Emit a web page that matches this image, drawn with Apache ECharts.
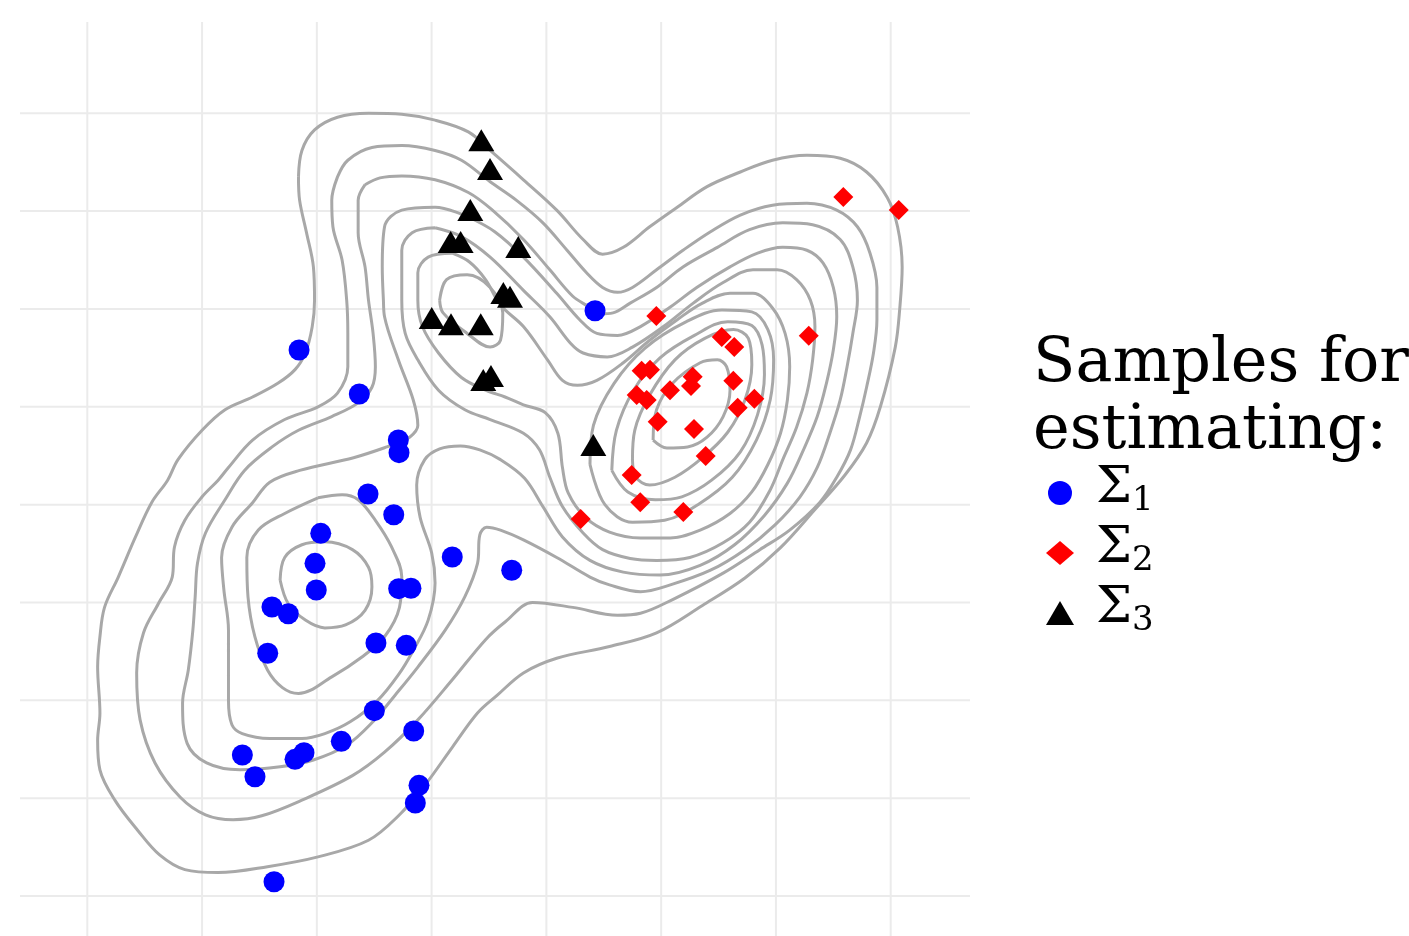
<!DOCTYPE html>
<html><head><meta charset="utf-8">
<script src="https://cdn.jsdelivr.net/npm/echarts@6/dist/echarts.min.js"></script>
<style>html,body{margin:0;padding:0;background:#fff}#chart{width:1409px;height:936px}</style>
</head><body><div id="chart"></div>
<script>
// ---- sample points (grid units) ----
const sigma1X = [1.845,2.370,2.710,2.716,2.446,2.670,2.034,1.984,1.995,1.609,1.751,1.572,2.515,2.779,2.713,2.820,3.180,3.698,4.424,2.501,2.844,2.213,1.351,1.461,1.810,1.888,2.890,2.858,1.627];
const sigma1Y = [5.581,5.131,4.661,4.531,4.109,3.897,3.707,3.400,3.128,2.954,2.885,2.481,2.586,2.562,3.141,3.145,3.465,3.329,5.982,1.894,1.686,1.581,1.441,1.219,1.397,1.465,1.131,0.951,0.146];
const sigma2X = [6.587,7.070,4.958,6.286,5.528,5.637,4.830,4.903,5.275,5.260,5.629,5.077,4.787,4.874,5.812,5.667,4.970,5.286,5.388,4.743,4.818,5.193,4.299];
const sigma2Y = [7.144,7.011,5.928,5.727,5.713,5.611,5.369,5.379,5.308,5.213,5.267,5.169,5.121,5.070,5.083,4.991,4.848,4.773,4.497,4.303,4.024,3.925,3.853];
const sigma3X = [3.433,3.509,3.337,3.166,3.253,3.755,3.625,3.683,3.001,3.169,3.428,3.450,3.517,4.409];
const sigma3Y = [7.724,7.431,7.011,6.684,6.684,6.633,6.163,6.125,5.908,5.843,5.843,5.274,5.315,4.610];
const seriesNames = ['Σ1','Σ2','Σ3'];
const legendTitle = 'Samples for\nestimating:';
const xGridTicks = [0,1,2,3,4,5,6,7];
const yGridTicks = [0,1,2,3,4,5,6,7,8];
const xLimits = [-0.5864, 7.6910];
const yLimits = [-0.4088, 8.9330];

// ---- density contour paths (grid units) ----
const level1 = [[1.84,7.35],[1.87,7.62],[1.98,7.83],[2.18,7.96],[2.45,8.00],[2.74,7.99],[3.03,7.93],[3.32,7.81],[3.51,7.62],[3.80,7.32],[4.09,7.01],[4.32,6.71],[4.49,6.56],[4.67,6.63],[4.90,6.84],[5.14,7.04],[5.40,7.25],[5.69,7.40],[5.97,7.52],[6.27,7.57],[6.56,7.54],[6.79,7.40],[6.97,7.14],[7.06,6.84],[7.10,6.43],[7.08,6.02],[7.04,5.61],[6.91,5.00],[6.79,4.63],[6.60,4.30],[6.34,3.95],[6.04,3.56],[5.73,3.25],[5.36,2.97],[4.96,2.69],[4.55,2.55],[4.09,2.43],[3.80,2.28],[3.57,2.05],[3.40,1.87],[3.18,1.52],[2.94,1.13],[2.72,0.83],[2.45,0.57],[2.01,0.40],[1.57,0.30],[1.14,0.24],[0.85,0.27],[0.63,0.42],[0.44,0.67],[0.24,0.98],[0.11,1.29],[0.09,1.59],[0.11,1.87],[0.09,2.34],[0.11,2.65],[0.15,2.95],[0.27,3.26],[0.42,3.67],[0.56,4.02],[0.70,4.25],[0.79,4.46],[1.00,4.76],[1.20,4.97],[1.44,5.10],[1.66,5.24],[1.81,5.38],[1.90,5.55],[1.96,5.82],[1.98,6.09],[1.97,6.43],[1.91,6.78],[1.85,7.11],[1.84,7.35]];
const level2 = [[2.18,7.35],[2.27,7.52],[2.48,7.65],[2.74,7.67],[3.03,7.62],[3.26,7.52],[3.51,7.30],[3.74,7.11],[3.97,6.88],[4.18,6.60],[4.35,6.37],[4.49,6.22],[4.62,6.17],[4.75,6.22],[4.96,6.40],[5.19,6.60],[5.43,6.79],[5.69,6.96],[5.97,7.06],[6.27,7.08],[6.53,7.01],[6.71,6.84],[6.82,6.57],[6.88,6.22],[6.88,5.89],[6.85,5.55],[6.79,5.20],[6.73,4.90],[6.65,4.56],[6.53,4.28],[6.38,4.02],[6.12,3.74],[5.86,3.54],[5.54,3.30],[5.10,3.03],[4.82,2.89],[4.62,2.87],[4.23,2.95],[3.88,3.00],[3.64,2.80],[3.47,2.62],[3.18,2.21],[2.88,1.80],[2.59,1.47],[2.31,1.23],[1.87,0.98],[1.52,0.82],[1.27,0.78],[1.03,0.83],[0.81,1.01],[0.59,1.36],[0.46,1.80],[0.43,2.28],[0.49,2.69],[0.62,2.99],[0.74,3.26],[0.76,3.57],[0.85,3.84],[1.00,4.08],[1.14,4.25],[1.23,4.38],[1.44,4.66],[1.72,4.87],[2.01,5.00],[2.18,5.14],[2.27,5.41],[2.27,5.75],[2.26,6.09],[2.22,6.50],[2.14,6.84],[2.13,7.11],[2.18,7.35]];
const level3 = [[2.42,7.27],[2.55,7.34],[2.74,7.36],[3.03,7.32],[3.32,7.19],[3.53,7.01],[3.80,6.71],[4.03,6.40],[4.23,6.13],[4.36,6.03],[4.47,5.95],[4.58,5.96],[4.73,6.06],[4.96,6.22],[5.19,6.43],[5.49,6.63],[5.77,6.81],[6.06,6.88],[6.32,6.86],[6.56,6.71],[6.67,6.43],[6.71,6.09],[6.67,5.75],[6.62,5.41],[6.56,5.07],[6.47,4.73],[6.36,4.38],[6.21,4.08],[5.99,3.79],[5.73,3.54],[5.43,3.33],[5.08,3.18],[4.82,3.11],[4.55,3.18],[4.38,3.26],[4.09,3.46],[3.80,3.64],[3.60,3.74],[3.48,3.77],[3.42,3.69],[3.40,3.40],[3.29,3.06],[3.12,2.72],[2.88,2.34],[2.68,2.05],[2.48,1.77],[2.26,1.54],[1.97,1.39],[1.68,1.32],[1.33,1.29],[1.04,1.36],[0.87,1.56],[0.83,1.97],[0.88,2.31],[0.92,2.72],[0.94,3.06],[0.96,3.40],[1.03,3.71],[1.20,4.05],[1.37,4.35],[1.61,4.59],[1.84,4.76],[2.13,4.90],[2.36,5.04],[2.48,5.20],[2.51,5.41],[2.49,5.75],[2.45,6.09],[2.42,6.43],[2.36,6.78],[2.36,7.11],[2.42,7.27]];
const level4 = [[3.32,6.94],[3.55,6.79],[3.80,6.53],[4.09,6.16],[4.29,5.89],[4.44,5.75],[4.62,5.73],[4.82,5.82],[5.08,6.02],[5.31,6.22],[5.60,6.43],[5.84,6.57],[6.06,6.63],[6.27,6.60],[6.41,6.47],[6.50,6.22],[6.53,5.92],[6.50,5.58],[6.44,5.24],[6.36,4.90],[6.24,4.56],[6.10,4.22],[5.90,3.89],[5.64,3.59],[5.34,3.38],[4.99,3.28],[4.67,3.31],[4.38,3.43],[4.14,3.67],[3.97,3.98],[3.81,4.27],[3.60,4.46],[3.42,4.56],[3.25,4.60],[3.07,4.57],[2.94,4.46],[2.87,4.20],[2.90,3.87],[3.00,3.51],[3.03,3.20],[2.97,2.82],[2.84,2.51],[2.71,2.26],[2.53,2.00],[2.29,1.78],[2.07,1.66],[1.87,1.61],[1.59,1.61],[1.35,1.66],[1.26,1.75],[1.23,2.00],[1.23,2.34],[1.23,2.72],[1.19,3.13],[1.17,3.46],[1.26,3.77],[1.44,4.02],[1.59,4.23],[1.85,4.35],[2.32,4.48],[2.61,4.59],[2.71,4.64],[2.81,4.69],[2.88,4.81],[2.84,5.07],[2.71,5.48],[2.59,5.92],[2.58,6.09],[2.57,6.43],[2.59,6.84],[2.74,7.01],[3.03,7.04],[3.32,6.94]];
const level5a = [[2.01,4.07],[2.22,4.10],[2.36,4.05],[2.51,3.84],[2.65,3.57],[2.74,3.26],[2.72,2.95],[2.59,2.65],[2.39,2.44],[2.13,2.24],[1.84,2.07],[1.70,2.13],[1.57,2.31],[1.46,2.65],[1.40,3.06],[1.39,3.46],[1.49,3.74],[1.72,3.91],[2.01,4.07]];
const level5b = [[3.03,6.83],[2.83,6.78],[2.74,6.60],[2.74,6.09],[2.77,5.75],[2.88,5.48],[3.06,5.17],[3.29,4.97],[3.51,4.87],[3.80,4.73],[3.94,4.56],[4.03,4.28],[4.14,3.98],[4.32,3.71],[4.49,3.54],[4.73,3.45],[4.96,3.43],[5.25,3.46],[5.54,3.61],[5.77,3.82],[5.95,4.15],[6.06,4.46],[6.18,4.79],[6.27,5.14],[6.32,5.48],[6.34,5.82],[6.30,6.09],[6.18,6.30],[6.01,6.40],[5.80,6.40],[5.54,6.27],[5.28,6.06],[5.02,5.82],[4.75,5.61],[4.53,5.51],[4.32,5.55],[4.21,5.65],[4.03,5.92],[3.80,6.19],[3.51,6.53],[3.26,6.74],[3.03,6.83]];
const level6a = [[1.68,3.23],[1.72,3.46],[1.87,3.59],[2.07,3.62],[2.31,3.54],[2.45,3.36],[2.48,3.16],[2.42,2.92],[2.25,2.77],[2.07,2.74],[1.90,2.82],[1.75,2.99],[1.68,3.23]];
const level6b = [[3.18,6.57],[2.97,6.53],[2.88,6.37],[2.88,6.09],[2.92,5.82],[3.06,5.55],[3.26,5.30],[3.47,5.17],[3.64,5.10],[3.80,5.02],[3.99,4.94],[4.10,4.73],[4.14,4.38],[4.19,4.12],[4.34,3.87],[4.55,3.72],[4.82,3.66],[5.08,3.66],[5.34,3.74],[5.60,3.91],[5.79,4.13],[5.93,4.41],[6.04,4.73],[6.10,5.07],[6.12,5.41],[6.08,5.75],[5.97,6.01],[5.80,6.16],[5.60,6.16],[5.36,6.06],[5.14,5.89],[4.90,5.68],[4.67,5.45],[4.44,5.27],[4.27,5.22],[4.14,5.27],[4.01,5.48],[3.80,5.82],[3.60,6.04],[3.47,6.30],[3.33,6.48],[3.18,6.57]];
const level7a = [[3.07,6.09],[3.13,6.30],[3.31,6.35],[3.51,6.22],[3.62,5.96],[3.60,5.68],[3.51,5.61],[3.31,5.75],[3.10,5.96],[3.07,6.09]];
const level7b = [[4.38,4.41],[4.41,4.81],[4.59,5.24],[4.86,5.60],[5.22,5.87],[5.53,5.99],[5.79,5.97],[5.93,5.79],[5.98,5.48],[5.95,5.07],[5.83,4.66],[5.62,4.28],[5.32,4.00],[5.03,3.84],[4.75,3.82],[4.51,4.00],[4.38,4.41]];
const level8 = [[4.57,4.35],[4.61,4.76],[4.76,5.17],[4.99,5.50],[5.29,5.73],[5.58,5.87],[5.79,5.83],[5.88,5.63],[5.90,5.33],[5.84,4.92],[5.69,4.54],[5.44,4.25],[5.18,4.08],[4.95,4.05],[4.71,4.13],[4.57,4.35]];
const level9 = [[4.75,4.46],[4.77,4.76],[4.90,5.12],[5.12,5.48],[5.38,5.70],[5.63,5.79],[5.76,5.70],[5.79,5.43],[5.73,5.07],[5.58,4.74],[5.36,4.48],[5.12,4.28],[4.90,4.20],[4.78,4.28],[4.75,4.46]];
const level10 = [[4.93,4.66],[4.96,4.97],[5.10,5.24],[5.34,5.45],[5.49,5.48],[5.57,5.41],[5.60,5.17],[5.54,4.90],[5.40,4.69],[5.23,4.59],[5.05,4.58],[4.93,4.66]];
const contourPaths = [level1, level2, level3, level4, level5a, level5b, level6a, level6b, level7a, level7b, level8, level9, level10];

const series = [];
// background grid lines, drawn through the axes' scales
xGridTicks.forEach(v=>series.push({type:'line',data:[[v,yLimits[0]],[v,yLimits[1]]],showSymbol:false,silent:true,z:0,lineStyle:{color:'#ebebeb',width:2}}));
yGridTicks.forEach(v=>series.push({type:'line',data:[[xLimits[0],v],[xLimits[1],v]],showSymbol:false,silent:true,z:0,lineStyle:{color:'#ebebeb',width:2}}));
contourPaths.forEach(p=>series.push({type:'line',data:p,showSymbol:false,silent:true,z:1,smooth:0.35,lineStyle:{color:'#a8a8a8',width:3}}));
const zip=(xs,ys)=>xs.map((x,i)=>[x,ys[i]]);
series.push({name:seriesNames[0],type:'scatter',data:zip(sigma1X,sigma1Y),symbol:'circle',symbolSize:21,itemStyle:{color:'#0000ff',opacity:1},z:3});
series.push({name:seriesNames[1],type:'scatter',data:zip(sigma2X,sigma2Y),symbol:'diamond',symbolSize:20,itemStyle:{color:'#ff0000',opacity:1},z:3});
series.push({name:seriesNames[2],type:'scatter',data:zip(sigma3X,sigma3Y),symbol:'triangle',symbolSize:[26,22],itemStyle:{color:'#000000',opacity:1},z:3});

const chart = echarts.init(document.getElementById('chart'), null, {renderer:'canvas'});
chart.setOption({
  animation:false,
  backgroundColor:'#ffffff',
  title:{text:legendTitle,left:1028,top:326,textStyle:{fontFamily:'DejaVu Serif',fontSize:62,lineHeight:67,fontWeight:'normal',color:'#000000'}},
  legend:{
    data:seriesNames, orient:'vertical', left:1041, top:458, itemWidth:28, itemHeight:24, itemGap:5,
    formatter:n=>'{m|Σ}{s|'+n.slice(1)+'}',
    textStyle:{color:'#000',fontFamily:'DejaVu Serif',rich:{
      m:{fontFamily:'DejaVu Serif',fontSize:51,lineHeight:50,verticalAlign:'bottom',padding:[0,0,4,17],color:'#000'},
      s:{fontFamily:'DejaVu Serif',fontSize:34,lineHeight:50,verticalAlign:'bottom',padding:[0,0,0,0],color:'#000'}
    }}
  },
  grid:{left:20,top:22,right:439,bottom:0,containLabel:false},
  xAxis:{type:'value',min:xLimits[0],max:xLimits[1],axisLine:{show:false},axisTick:{show:false},axisLabel:{show:false},splitLine:{show:false}},
  yAxis:{type:'value',min:yLimits[0],max:yLimits[1],axisLine:{show:false},axisTick:{show:false},axisLabel:{show:false},splitLine:{show:false}},
  series:series
});
</script></body></html>
